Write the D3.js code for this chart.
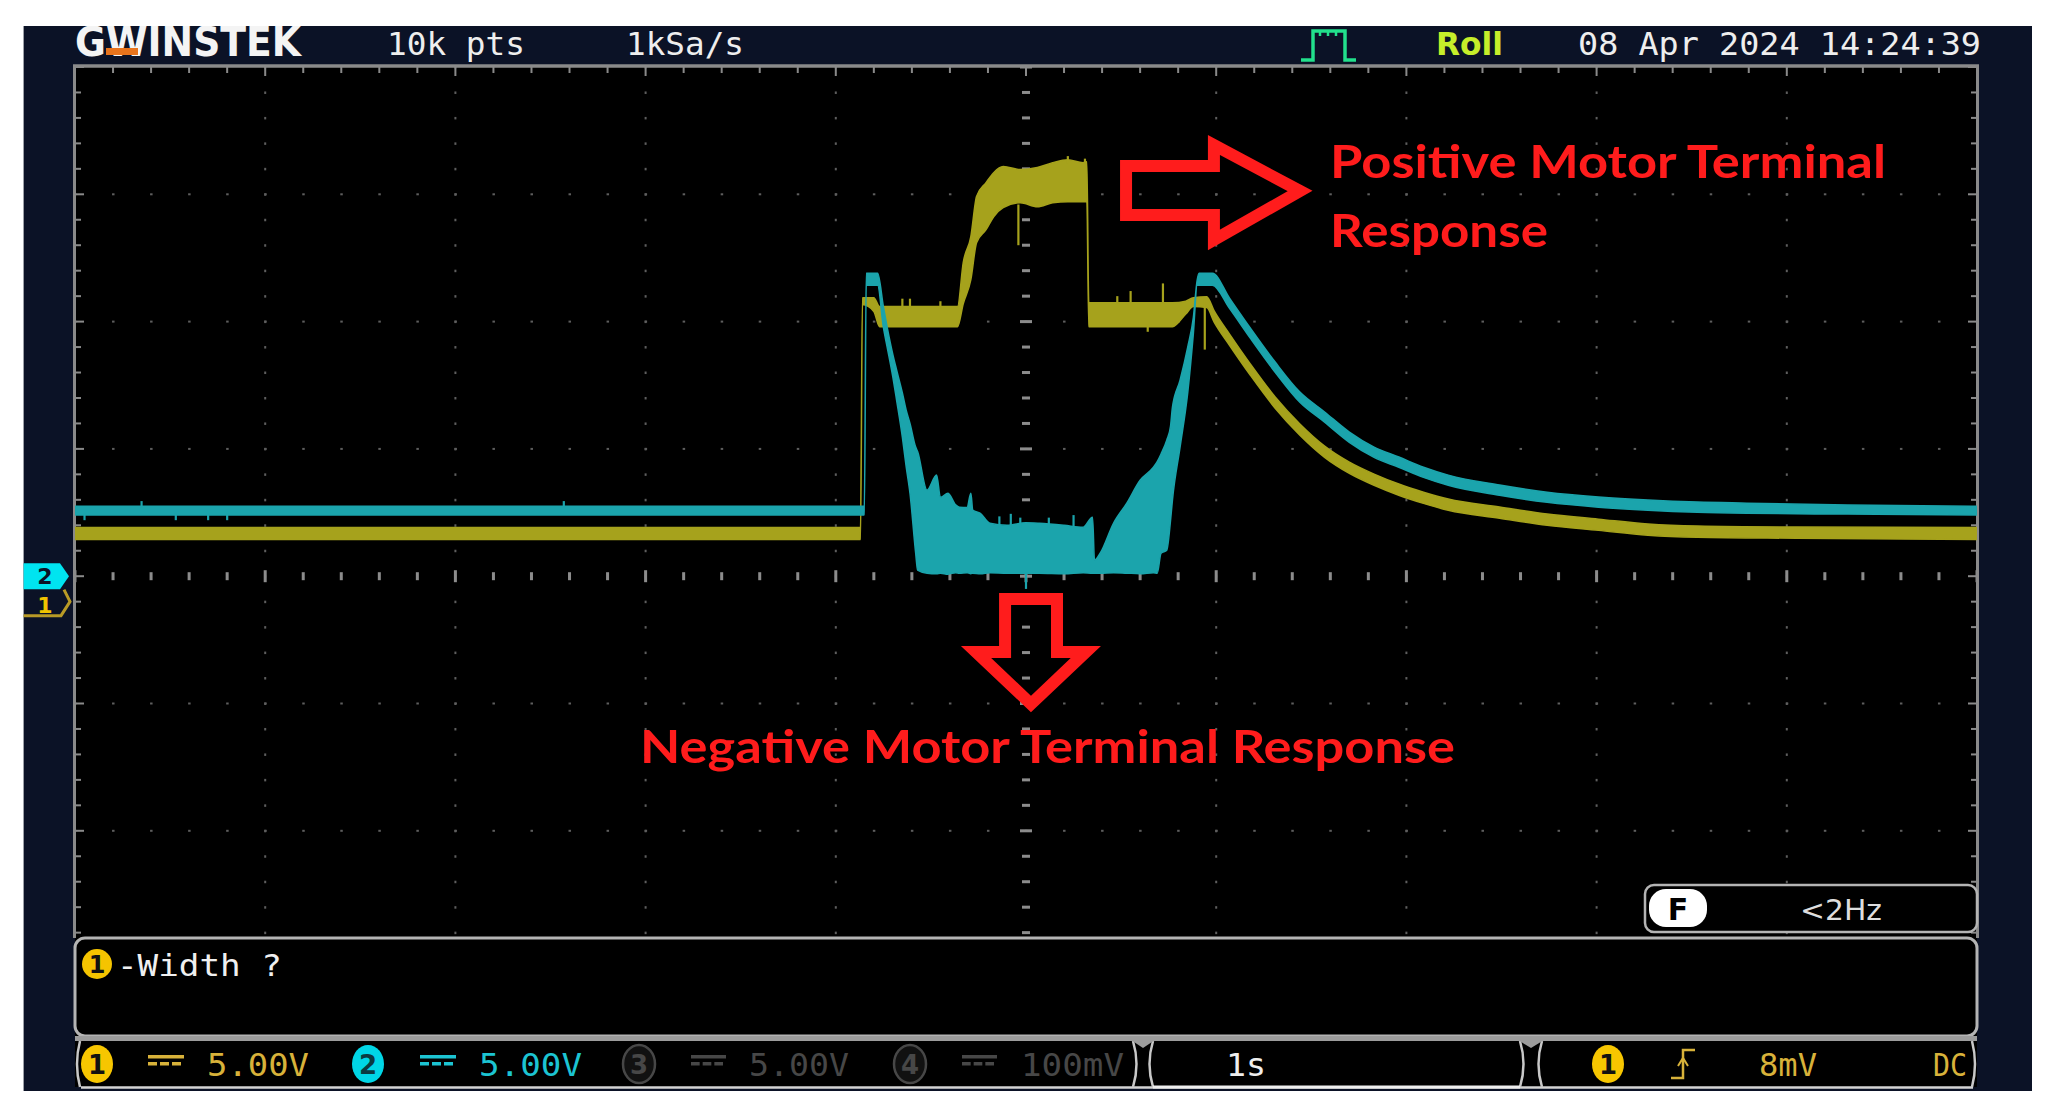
<!DOCTYPE html>
<html><head><meta charset="utf-8">
<script src="https://cdn.jsdelivr.net/npm/d3@7"></script>
<style>html,body{margin:0;padding:0;background:#fff;overflow:hidden}</style>
</head><body>
<svg id="c" width="2057" height="1116"></svg>
<script>
// ---------------- DATA (time in s, voltage in V) ----------------
// Channel 2 (cyan) envelope: min / max of the roll-mode trace
const ch2Time = [0,4.15,4.16,4.22,4.25,4.27,4.30,4.32,4.35,4.37,4.39,4.42,4.43,4.48,4.53,4.55,4.59,4.63,4.65,4.69,4.71,4.72,4.76,4.81,4.90,5.00,5.07,5.20,5.30,5.35,5.36,5.39,5.46,5.53,5.60,5.67,5.69,5.71,5.74,5.76,5.77,5.81,5.85,5.88,5.90,5.91,5.98,6.07,6.18,6.31,6.44,6.57,6.70,6.83,6.96,7.09,7.22,7.49,7.74,8.01,8.27,8.53,8.79,9.32,10.0];
const ch2Hi = [2.75,2.75,11.90,11.90,10.60,9.78,8.70,8.09,7.20,6.52,6.00,5.07,4.90,3.38,3.97,3.10,3.26,2.80,2.71,2.70,3.26,2.60,2.47,2.08,2.00,2.10,2.08,2.00,1.92,2.32,0.63,0.90,2.08,2.87,3.77,4.28,4.50,4.80,5.34,5.90,6.64,7.70,8.99,10.17,11.63,11.90,11.90,10.92,9.74,8.41,7.23,6.45,5.66,5.07,4.68,4.28,3.97,3.58,3.30,3.11,2.99,2.91,2.87,2.80,2.75];
const ch2Lo = [2.40,2.40,11.43,11.43,9.78,9.00,7.82,6.90,5.46,4.30,3.26,0.90,0.24,0.12,0.10,0.12,0.08,0.14,0.12,0.14,0.10,0.12,0.10,0.14,0.12,0.12,0.12,0.10,0.14,0.12,0.12,0.12,0.14,0.12,0.10,0.14,0.12,0.90,1.02,2.20,3.00,5.07,7.19,9.54,11.43,11.43,11.43,10.52,9.34,8.01,6.83,6.05,5.26,4.67,4.28,3.88,3.57,3.18,2.90,2.71,2.59,2.51,2.47,2.44,2.40];
// Channel 1 (yellow) envelope
const ch1Time = [0,4.13,4.14,4.20,4.23,4.64,4.67,4.71,4.74,4.79,4.83,4.88,4.97,5.06,5.14,5.22,5.30,5.32,5.33,5.77,5.84,5.88,5.95,5.99,6.07,6.18,6.31,6.44,6.57,6.70,6.83,6.96,7.09,7.22,7.49,7.74,8.01,8.27,8.53,9.05,10.0];
const ch1Hi = [2.91,2.91,11.94,11.94,11.59,11.59,13.32,14.34,15.91,16.46,16.85,17.09,16.97,17.05,17.24,17.36,17.24,17.28,11.74,11.74,11.80,11.94,11.98,11.41,10.51,9.33,8.04,6.98,6.11,5.48,5.01,4.62,4.30,4.03,3.72,3.44,3.24,3.05,2.97,2.93,2.91];
const ch1Lo = [2.44,2.44,11.67,11.40,10.80,10.80,11.70,12.65,14.10,14.61,15.12,15.48,15.67,15.51,15.67,15.71,15.71,15.71,10.80,10.80,11.30,11.59,11.55,10.97,10.07,8.89,7.60,6.54,5.67,5.04,4.57,4.18,3.86,3.59,3.28,3.00,2.80,2.61,2.53,2.49,2.44];
// isolated glitches (time, from V, to V)
const ch1SpikeTime = [4.35,4.39,4.55,4.96,5.22,5.31,5.48,5.55,5.64,5.72,5.94];
const ch1SpikeFrom = [11.5,11.5,11.5,15.6,17.2,17.2,11.7,11.7,10.9,11.7,11.9];
const ch1SpikeTo   = [11.9,11.9,11.8,14.0,17.5,17.4,12.0,12.2,10.6,12.5,9.9];
const ch2SpikeTime = [0.05,0.35,0.53,0.70,0.80,2.57,4.86,4.92,4.97,5.00,5.12,5.25];
const ch2SpikeFrom = [2.45,2.70,2.45,2.45,2.45,2.70,1.9,1.9,1.9,0.10,1.9,1.9];
const ch2SpikeTo   = [2.20,2.95,2.20,2.20,2.20,2.95,2.35,2.45,2.30,-0.5,2.30,2.40];

// labels
const brandName = "GWINSTEK";
const headerLabels = ["10k pts","1kSa/s","Roll","08 Apr 2024 14:24:39"];
const channelScales = ["5.00V","5.00V","5.00V","100mV"];
const timebase = "1s";
const triggerLevel = "8mV";
const triggerCoupling = "DC";
const freqReadout = "<2Hz";
const measureLabel = "-Width ?";
const annotationTexts = ["Positive Motor Terminal","Response","Negative Motor Terminal Response"];

// ---------------- SCALES ----------------
const svg = d3.select("#c");
const P = {l:75, r:1977, t:67, b:1085.4, panelTop:938};
const x = d3.scaleLinear().domain([0,10]).range([P.l,P.r]);          // seconds, 1 s/div
const yDiv = d3.scaleLinear().domain([0,8]).range([P.t,P.b]);          // divisions from top
const y2 = d3.scaleLinear().domain([0,5]).range([yDiv(4), yDiv(3)]);   // ch2: ground at centre, 5 V/div
const y1 = d3.scaleLinear().domain([0,5]).range([yDiv(4.2), yDiv(3.2)]); // ch1: ground 0.2 div below

// ---------------- FRAME ----------------
svg.append("rect").attr("x",0).attr("y",0).attr("width",2057).attr("height",1116).attr("fill","#fff");
svg.append("rect").attr("x",23.6).attr("y",26).attr("width",2032-23.6).attr("height",1091-26).attr("fill","#0b1226");
svg.append("rect").attr("x",P.l).attr("y",P.t).attr("width",P.r-P.l).attr("height",1040-P.t).attr("fill","#000");

const defs = svg.append("defs");
defs.append("clipPath").attr("id","plotClip").append("rect").attr("x",P.l).attr("y",P.t).attr("width",P.r-P.l).attr("height",P.panelTop-2-P.t);
defs.append("clipPath").attr("id","frameClip").append("rect").attr("x",23.6).attr("y",26).attr("width",2032-23.6).attr("height",1091-26);

// ---------------- GRID ----------------
const g = svg.append("g").attr("clip-path","url(#plotClip)");
const dotCol = "#5e5e5e";
for (let k=1;k<=9;k++){ if(k===5) continue;
  for (let j=0;j<=40;j++){ g.append("rect").attr("x",x(k)-1).attr("y",yDiv(j/5)-1).attr("width",2).attr("height",2.5).attr("fill",dotCol); } }
for (let j=1;j<=7;j++){ if(j===4) continue;
  for (let i=0;i<=50;i++){ g.append("rect").attr("x",x(i/5)-1).attr("y",yDiv(j)-1).attr("width",2.5).attr("height",2).attr("fill",dotCol); } }
for (let j=0;j<=40;j++){ const w = (j%5===0)?12:8;
  g.append("rect").attr("x",x(5)-w/2).attr("y",yDiv(j/5)-1.5).attr("width",w).attr("height",3).attr("fill","#8c8c8c"); }
for (let i=0;i<=50;i++){ const h = (i%5===0)?12:8;
  g.append("rect").attr("x",x(i/5)-1.5).attr("y",yDiv(4)-h/2).attr("width",3).attr("height",h).attr("fill","#8c8c8c"); }
const bc="#8a8a8a";
svg.append("line").attr("x1",P.l-2).attr("x2",P.r+2).attr("y1",P.t-1).attr("y2",P.t-1).attr("stroke",bc).attr("stroke-width",3.5);
svg.append("line").attr("x1",P.l-0.5).attr("x2",P.l-0.5).attr("y1",P.t).attr("y2",P.panelTop).attr("stroke",bc).attr("stroke-width",3);
svg.append("line").attr("x1",P.r+0.5).attr("x2",P.r+0.5).attr("y1",P.t).attr("y2",P.panelTop).attr("stroke",bc).attr("stroke-width",3);
for (let i=0;i<=50;i++){ const L=(i%5===0)?9:6;
  g.append("line").attr("x1",x(i/5)).attr("x2",x(i/5)).attr("y1",P.t).attr("y2",P.t+L).attr("stroke",bc).attr("stroke-width",2); }
for (let j=0;j<=40;j++){ const L=(j%5===0)?9:6;
  g.append("line").attr("x1",P.l).attr("x2",P.l+L).attr("y1",yDiv(j/5)).attr("y2",yDiv(j/5)).attr("stroke",bc).attr("stroke-width",2);
  g.append("line").attr("x1",P.r-L).attr("x2",P.r).attr("y1",yDiv(j/5)).attr("y2",yDiv(j/5)).attr("stroke",bc).attr("stroke-width",2); }

// ---------------- TRACES ----------------
const tr = svg.append("g").attr("clip-path","url(#plotClip)");
function drawTrace(time, hi, lo, ys, col, sT, sF, sTo){
  const idx = d3.range(time.length);
  const area = d3.area().curve(d3.curveMonotoneX).x(i=>x(time[i])).y0(i=>ys(lo[i])).y1(i=>ys(hi[i]));
  tr.append("path").datum(idx).attr("d",area).attr("fill",col).attr("stroke",col).attr("stroke-width",1.5).attr("stroke-linejoin","round");
  tr.selectAll(null).data(d3.range(sT.length)).enter().append("line")
    .attr("x1",i=>x(sT[i])).attr("x2",i=>x(sT[i])).attr("y1",i=>ys(sF[i])).attr("y2",i=>ys(sTo[i]))
    .attr("stroke",col).attr("stroke-width",2.2);
}
drawTrace(ch1Time, ch1Hi, ch1Lo, y1, "#a6a21c", ch1SpikeTime, ch1SpikeFrom, ch1SpikeTo);
drawTrace(ch2Time, ch2Hi, ch2Lo, y2, "#1ba4ac", ch2SpikeTime, ch2SpikeFrom, ch2SpikeTo);

// ---------------- ANNOTATIONS ----------------
const red = "#ff1c1c";
const pt = (dx,dy)=>[x(dx), yDiv(dy)];
const ann = svg.append("g");
const rightArrow = [pt(5.526,0.778),pt(5.988,0.778),pt(5.988,0.613),pt(6.441,0.974),pt(5.988,1.359),pt(5.988,1.163),pt(5.526,1.163)];
ann.append("path").attr("d",d3.line()(rightArrow)+"Z").attr("fill","none").attr("stroke",red).attr("stroke-width",12).attr("stroke-linejoin","miter");
const downArrow = [pt(4.890,4.179),pt(5.163,4.179),pt(5.163,4.595),pt(5.315,4.595),pt(5.026,5.004),pt(4.737,4.595),pt(4.890,4.595)];
ann.append("path").attr("d",d3.line()(downArrow)+"Z").attr("fill","none").attr("stroke",red).attr("stroke-width",12).attr("stroke-linejoin","miter");
const annFont = "Lato, 'Open Sans', sans-serif";
ann.append("text").attr("x",1330).attr("y",178).attr("textLength",556).attr("lengthAdjust","spacingAndGlyphs")
  .attr("font-family",annFont).attr("font-weight",700).attr("font-size",46).attr("fill",red).text(annotationTexts[0]);
ann.append("text").attr("x",1330).attr("y",247).attr("textLength",218).attr("lengthAdjust","spacingAndGlyphs")
  .attr("font-family",annFont).attr("font-weight",700).attr("font-size",46).attr("fill",red).text(annotationTexts[1]);
ann.append("text").attr("x",640).attr("y",763).attr("textLength",815).attr("lengthAdjust","spacingAndGlyphs")
  .attr("font-family",annFont).attr("font-weight",700).attr("font-size",46).attr("fill",red).text(annotationTexts[2]);

// ---------------- F box ----------------
const mono = "'DejaVu Sans Mono', 'Liberation Mono', monospace";
svg.append("rect").attr("x",1645).attr("y",885).attr("width",1977-1645).attr("height",47).attr("rx",9).attr("fill","#000").attr("stroke","#b4b4b4").attr("stroke-width",2.5);
svg.append("rect").attr("x",1649).attr("y",889).attr("width",58).attr("height",38).attr("rx",17).attr("fill","#fff");
svg.append("text").attr("x",1678).attr("y",920).attr("text-anchor","middle").attr("font-family","'DejaVu Sans', sans-serif").attr("font-weight",700).attr("font-size",30).attr("fill","#000").text("F");
svg.append("text").attr("x",1800).attr("y",920).attr("textLength",82).attr("lengthAdjust","spacingAndGlyphs").attr("font-family","'DejaVu Sans', sans-serif").attr("font-size",29).attr("fill","#dedede").text(freqReadout);

// ---------------- measurement panel ----------------
svg.append("rect").attr("x",P.l).attr("y",P.panelTop).attr("width",P.r-P.l).attr("height",1036-P.panelTop).attr("rx",10).attr("fill","#000").attr("stroke","#b4b4b4").attr("stroke-width",3);
svg.append("circle").attr("cx",97).attr("cy",964).attr("r",15).attr("fill","#f5c400");
svg.append("text").attr("x",97).attr("y",973).attr("text-anchor","middle").attr("font-family","'DejaVu Sans', sans-serif").attr("font-weight",700).attr("font-size",24).attr("fill","#111").text("1");
svg.append("text").attr("x",117).attr("y",976).attr("textLength",165).attr("lengthAdjust","spacingAndGlyphs").attr("font-family",mono).attr("font-size",31).attr("fill","#f0f0f0").text(measureLabel);

// ---------------- bottom bar ----------------
const bb = svg.append("g");
bb.append("rect").attr("x",P.l).attr("y",1040).attr("width",P.r-P.l).attr("height",47).attr("fill","#000");
bb.append("line").attr("x1",P.l).attr("x2",P.r).attr("y1",1038.5).attr("y2",1038.5).attr("stroke","#9c9c9c").attr("stroke-width",5);
bb.append("line").attr("x1",P.l+6).attr("x2",P.r-4).attr("y1",1087.5).attr("y2",1087.5).attr("stroke","#d4d4d4").attr("stroke-width",2.5);
bb.append("path").attr("d","M80,1041 Q74,1064 80,1087").attr("fill","none").attr("stroke","#c8c8c8").attr("stroke-width",2.5);
bb.append("path").attr("d","M1972,1041 Q1978,1064 1972,1087").attr("fill","none").attr("stroke","#c8c8c8").attr("stroke-width",2.5);
[[1137,1149],[1524,1538]].forEach(([a,b])=>{
  bb.append("path").attr("d",`M${a-4},1041 Q${a+3},1064 ${a-4},1087`).attr("fill","none").attr("stroke","#c8c8c8").attr("stroke-width",2.5);
  bb.append("path").attr("d",`M${b+4},1041 Q${b-3},1064 ${b+4},1087`).attr("fill","none").attr("stroke","#c8c8c8").attr("stroke-width",2.5);
  bb.append("path").attr("d",`M${a-6},1040 L${(a+b)/2},1048 L${b+6},1040 Z`).attr("fill","#9c9c9c");
});
bb.append("path").attr("d","M1153,1087 L1520,1087").attr("stroke","#eeeeee").attr("stroke-width",3);

function chBadge(cx, num, fill, txt, outline){
  bb.append("ellipse").attr("cx",cx).attr("cy",1064).attr("rx",16).attr("ry",19).attr("fill",fill).attr("stroke",outline||"none").attr("stroke-width",2.5);
  bb.append("text").attr("x",cx).attr("y",1074).attr("text-anchor","middle").attr("font-family","'DejaVu Sans', sans-serif").attr("font-weight",700).attr("font-size",26).attr("fill",txt).text(num);
}
function dcSym(x0, w, col){
  bb.append("rect").attr("x",x0).attr("y",1055).attr("width",w).attr("height",3.5).attr("fill",col);
  for(let k=0;k<3;k++) bb.append("rect").attr("x",x0+k*w/3).attr("y",1062).attr("width",w/3-3).attr("height",3.5).attr("fill",col);
}
function bText(x0, w, s, col){
  bb.append("text").attr("x",x0).attr("y",1076).attr("textLength",w).attr("lengthAdjust","spacingAndGlyphs").attr("font-family",mono).attr("font-size",32).attr("fill",col).text(s);
}
chBadge(97,"1","#f7c600","#111"); dcSym(148,36,"#d8b23a"); bText(207,102,channelScales[0],"#d8b23a");
chBadge(368,"2","#00d6e6","#0b3a40"); dcSym(420,36,"#1cc4d2"); bText(479,103,channelScales[1],"#1cc4d2");
chBadge(639,"3","#111","#474747","#474747"); dcSym(691,35,"#474747"); bText(749,100,channelScales[2],"#474747");
chBadge(910,"4","#111","#474747","#474747"); dcSym(962,35,"#474747"); bText(1021,103,channelScales[3],"#474747");
bText(1226,40,timebase,"#eeeeee");
chBadge(1608,"1","#f7c600","#111");
bb.append("path").attr("d","M1671,1078 H1683 V1050 H1695").attr("fill","none").attr("stroke","#d8b23a").attr("stroke-width",2.5);
bb.append("path").attr("d","M1678,1066 L1683,1058 L1688,1066").attr("fill","none").attr("stroke","#d8b23a").attr("stroke-width",2);
bText(1759,58,triggerLevel,"#d8b23a");
bText(1933,34,triggerCoupling,"#d8b23a");

// ---------------- header ----------------
const hd = svg.append("g").attr("clip-path","url(#frameClip)");
hd.append("text").attr("x",75).attr("y",56).attr("textLength",226).attr("lengthAdjust","spacingAndGlyphs")
  .attr("font-family","'DejaVu Sans', sans-serif").attr("font-weight",700).attr("font-size",41).attr("fill","#f4f4f4").text(brandName);
hd.append("rect").attr("x",106).attr("y",48).attr("width",32).attr("height",7).attr("fill","#e8741c");
hd.append("text").attr("x",387).attr("y",55).attr("textLength",138).attr("lengthAdjust","spacingAndGlyphs").attr("font-family",mono).attr("font-size",32).attr("fill","#eeeeee").text(headerLabels[0]);
hd.append("text").attr("x",626).attr("y",55).attr("textLength",118).attr("lengthAdjust","spacingAndGlyphs").attr("font-family",mono).attr("font-size",32).attr("fill","#eeeeee").text(headerLabels[1]);
hd.append("text").attr("x",1436).attr("y",55).attr("textLength",67).attr("lengthAdjust","spacingAndGlyphs").attr("font-family","'DejaVu Sans', sans-serif").attr("font-weight",700).attr("font-size",32).attr("fill","#c6ee2a").text(headerLabels[2]);
hd.append("text").attr("x",1578).attr("y",55).attr("textLength",403).attr("lengthAdjust","spacingAndGlyphs").attr("font-family",mono).attr("font-size",32).attr("fill","#eeeeee").text(headerLabels[3]);
hd.append("path").attr("d","M1301,60 H1313 V31 H1345 V60 H1356").attr("fill","none").attr("stroke","#22e08c").attr("stroke-width",3.5);
[1320,1328,1336].forEach(v=>hd.append("line").attr("x1",v).attr("x2",v).attr("y1",31).attr("y2",36).attr("stroke","#22e08c").attr("stroke-width",2.5));

// ---------------- channel ground markers ----------------
const mk = svg.append("g").attr("clip-path","url(#frameClip)");
const g2 = y2(0), g1 = y1(0);
mk.append("path").attr("d",`M20,${g2-13} H60 L69,${g2} L60,${g2+13} H20 Z`).attr("fill","#00e4f0");
mk.append("text").attr("x",45).attr("y",g2+8).attr("text-anchor","middle").attr("font-family","'DejaVu Sans', sans-serif").attr("font-weight",700).attr("font-size",22).attr("fill","#0b1226").text("2");
mk.append("path").attr("d",`M20,${g1+14} H61 L70,${g1} L64,${g1-12}`).attr("fill","none").attr("stroke","#b89a26").attr("stroke-width",3);
mk.append("text").attr("x",45).attr("y",g1+11).attr("text-anchor","middle").attr("font-family","'DejaVu Sans', sans-serif").attr("font-weight",700).attr("font-size",22).attr("fill","#f0c400").text("1");
</script>
</body></html>
